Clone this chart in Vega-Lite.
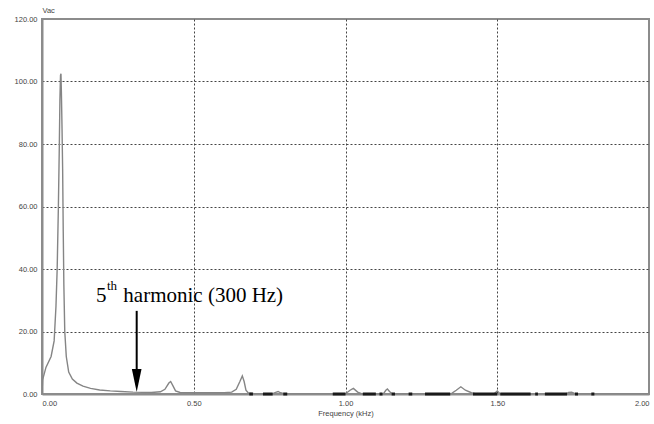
{
  "$schema": "https://vega.github.io/schema/vega-lite/v6.json",
  "width": 607,
  "height": 375,
  "autosize": {"type": "none"},
  "padding": {"left": 42, "top": 19, "right": 5, "bottom": 30},
  "background": "white",
  "config": {
    "view": {"stroke": "#8c8c8c", "strokeWidth": 2},
    "font": "Liberation Sans",
    "axis": {
      "labelFont": "Liberation Sans",
      "titleFont": "Liberation Sans",
      "labelFontSize": 7.5,
      "titleFontSize": 7.5,
      "labelColor": "#444",
      "titleColor": "#444",
      "titleFontWeight": "normal",
      "ticks": false,
      "domainColor": "#8c8c8c",
      "domainWidth": 2,
      "gridColor": "#444",
      "gridDash": [2, 2],
      "gridWidth": 1
    }
  },
  "datasets": {
    "spectrum": [
      {"f": 0.000, "v": 0.0},
      {"f": 0.002, "v": 4.5},
      {"f": 0.013, "v": 8.5},
      {"f": 0.030, "v": 12.0},
      {"f": 0.040, "v": 17.0},
      {"f": 0.046, "v": 28.0},
      {"f": 0.050, "v": 40.0},
      {"f": 0.054, "v": 60.0},
      {"f": 0.057, "v": 79.0},
      {"f": 0.059, "v": 94.0},
      {"f": 0.061, "v": 102.0},
      {"f": 0.0625, "v": 102.5},
      {"f": 0.064, "v": 96.0},
      {"f": 0.066, "v": 85.0},
      {"f": 0.068, "v": 72.0},
      {"f": 0.070, "v": 52.0},
      {"f": 0.072, "v": 35.0},
      {"f": 0.075, "v": 20.0},
      {"f": 0.080, "v": 12.0},
      {"f": 0.088, "v": 7.0},
      {"f": 0.100, "v": 4.8},
      {"f": 0.115, "v": 3.5},
      {"f": 0.135, "v": 2.5},
      {"f": 0.160, "v": 1.8},
      {"f": 0.190, "v": 1.3},
      {"f": 0.225, "v": 1.0},
      {"f": 0.260, "v": 0.8},
      {"f": 0.300, "v": 0.6},
      {"f": 0.360, "v": 0.5},
      {"f": 0.390, "v": 0.7},
      {"f": 0.405, "v": 1.5},
      {"f": 0.418, "v": 3.5},
      {"f": 0.424, "v": 4.0},
      {"f": 0.432, "v": 2.5},
      {"f": 0.440, "v": 1.0},
      {"f": 0.455, "v": 0.5},
      {"f": 0.500, "v": 0.4},
      {"f": 0.600, "v": 0.4},
      {"f": 0.625, "v": 0.6},
      {"f": 0.640, "v": 1.5},
      {"f": 0.652, "v": 4.0},
      {"f": 0.660, "v": 5.8},
      {"f": 0.666, "v": 4.0},
      {"f": 0.672, "v": 1.2},
      {"f": 0.680, "v": 0.3},
      {"f": 0.700, "v": 0.1},
      {"f": 0.760, "v": 0.1},
      {"f": 0.770, "v": 0.5},
      {"f": 0.778, "v": 0.8},
      {"f": 0.786, "v": 0.4},
      {"f": 0.800, "v": 0.0},
      {"f": 1.000, "v": 0.1},
      {"f": 1.015, "v": 1.2},
      {"f": 1.026, "v": 1.8},
      {"f": 1.040, "v": 0.6},
      {"f": 1.055, "v": 0.0},
      {"f": 1.125, "v": 0.1},
      {"f": 1.133, "v": 1.2},
      {"f": 1.138, "v": 1.6},
      {"f": 1.145, "v": 0.8},
      {"f": 1.155, "v": 0.0},
      {"f": 1.350, "v": 0.2},
      {"f": 1.365, "v": 1.2},
      {"f": 1.380, "v": 2.3},
      {"f": 1.395, "v": 1.2},
      {"f": 1.415, "v": 0.4},
      {"f": 1.430, "v": 0.0},
      {"f": 1.490, "v": 0.1},
      {"f": 1.500, "v": 1.0},
      {"f": 1.510, "v": 0.0},
      {"f": 1.725, "v": 0.0},
      {"f": 1.735, "v": 0.5},
      {"f": 1.745, "v": 0.6},
      {"f": 1.755, "v": 0.2},
      {"f": 1.770, "v": 0.0},
      {"f": 2.000, "v": 0.0}
    ],
    "dark": [
      {"f0": 0.683, "f1": 0.695, "v": 0},
      {"f0": 0.728, "f1": 0.760, "v": 0},
      {"f0": 0.795, "f1": 0.808, "v": 0},
      {"f0": 0.958, "f1": 1.000, "v": 0},
      {"f0": 1.057, "f1": 1.100, "v": 0},
      {"f0": 1.112, "f1": 1.122, "v": 0},
      {"f0": 1.152, "f1": 1.163, "v": 0},
      {"f0": 1.208, "f1": 1.220, "v": 0},
      {"f0": 1.262, "f1": 1.345, "v": 0},
      {"f0": 1.420, "f1": 1.500, "v": 0},
      {"f0": 1.510, "f1": 1.610, "v": 0},
      {"f0": 1.625, "f1": 1.634, "v": 0},
      {"f0": 1.657, "f1": 1.730, "v": 0},
      {"f0": 1.756, "f1": 1.766, "v": 0},
      {"f0": 1.810, "f1": 1.820, "v": 0}
    ],
    "arrow": [
      {"f": 0.312, "top": 26.6, "bottom": 6.0, "head": 4.3}
    ],
    "labels": [
      {"f": 0.178, "v": 29.5, "part": "base", "text": "5"},
      {"f": 0.214, "v": 31.3, "part": "sup", "text": "th"},
      {"f": 0.268, "v": 29.5, "part": "base", "text": "harmonic (300 Hz)"}
    ]
  },
  "encoding": {
    "x": {
      "field": "f", "type": "quantitative",
      "scale": {"domain": [0, 2], "nice": false, "zero": false},
      "axis": {
        "values": [0, 0.5, 1, 1.5, 2],
        "format": ".2f",
        "title": "Frequency (kHz)",
        "labelPadding": 5,
        "titlePadding": 3,
        "gridOpacity": {"condition": {"test": "datum.value == 0 || datum.value == 2", "value": 0}, "value": 1}
      }
    },
    "y": {
      "field": "v", "type": "quantitative",
      "scale": {"domain": [0, 120], "nice": false},
      "axis": {
        "values": [0, 20, 40, 60, 80, 100, 120],
        "format": ".2f",
        "title": "Vac",
        "titleAngle": 0,
        "titleAlign": "left",
        "titleBaseline": "middle",
        "titleX": 0,
        "titleY": -9,
        "labelPadding": 5,
        "gridOpacity": {"condition": {"test": "datum.value == 0 || datum.value == 120", "value": 0}, "value": 1}
      }
    }
  },
  "layer": [
    {
      "data": {"name": "spectrum"},
      "mark": {"type": "line", "color": "#858585", "strokeWidth": 1.4, "clip": true},
      "encoding": {}
    },
    {
      "data": {"name": "dark"},
      "mark": {"type": "rule", "color": "#1a1a1a", "strokeWidth": 3},
      "encoding": {
        "x": {"field": "f0", "type": "quantitative"},
        "x2": {"field": "f1"}
      }
    },
    {
      "data": {"name": "arrow"},
      "mark": {"type": "rule", "color": "black", "strokeWidth": 2},
      "encoding": {
        "y": {"field": "top", "type": "quantitative"},
        "y2": {"field": "bottom"}
      }
    },
    {
      "data": {"name": "arrow"},
      "mark": {"type": "point", "shape": "M-0.42,-1L0.42,-1L0,1Z", "filled": true, "color": "black", "opacity": 1, "size": 529, "strokeWidth": 0},
      "encoding": {
        "y": {"field": "head", "type": "quantitative"}
      }
    },
    {
      "data": {"name": "labels"},
      "transform": [{"filter": "datum.part == 'base'"}],
      "mark": {"type": "text", "font": "Liberation Serif", "fontSize": 21, "align": "left", "baseline": "alphabetic", "color": "black"},
      "encoding": {
        "text": {"field": "text"}
      }
    },
    {
      "data": {"name": "labels"},
      "transform": [{"filter": "datum.part == 'sup'"}],
      "mark": {"type": "text", "font": "Liberation Serif", "fontSize": 13, "align": "left", "baseline": "alphabetic", "color": "black", "dy": -6},
      "encoding": {
        "text": {"field": "text"}
      }
    }
  ]
}
